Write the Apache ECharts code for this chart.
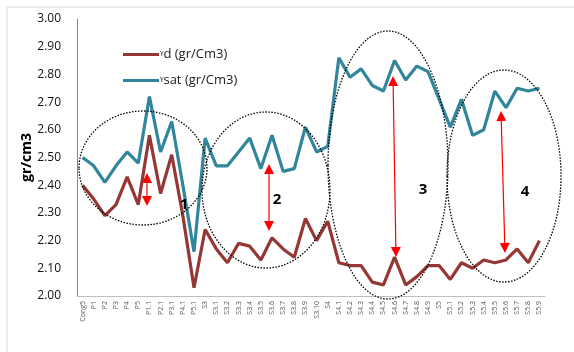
<!DOCTYPE html>
<html>
<head>
<meta charset="utf-8">
<script src="https://cdn.jsdelivr.net/npm/echarts@6/dist/echarts.min.js"></script>
<style>
  html, body { margin: 0; padding: 0; background: #fff; }
  #chart { width: 574px; height: 352px; }
</style>
</head>
<body>
<div id="chart"></div>
<script>
// sample labels
const categories = ['Cong5', 'P1', 'P2', 'P3', 'P4', 'P5', 'P1.1', 'P2.1', 'P3.1', 'P4.1', 'P5.1',
    'S3', 'S3.1', 'S3.2', 'S3.3', 'S3.4', 'S3.5', 'S3.6', 'S3.7', 'S3.8', 'S3.9', 'S3.10',
    'S4', 'S4.1', 'S4.2', 'S4.3', 'S4.4', 'S4.5', 'S4.6', 'S4.7', 'S4.8', 'S4.9',
    'S5', 'S5.1', 'S5.2', 'S5.3', 'S5.4', 'S5.5', 'S5.6', 'S5.7', 'S5.8', 'S5.9'];

// dry unit weight
const gammaD = [2.40, 2.35, 2.29, 2.33, 2.43, 2.33, 2.58, 2.37, 2.51, 2.29, 2.03,
    2.24, 2.17, 2.12, 2.19, 2.18, 2.13, 2.21, 2.17, 2.14, 2.28, 2.20,
    2.27, 2.12, 2.11, 2.11, 2.05, 2.04, 2.14, 2.04, 2.07, 2.11,
    2.11, 2.06, 2.12, 2.10, 2.13, 2.12, 2.13, 2.17, 2.12, 2.20];

// saturated unit weight
const gammaSat = [2.50, 2.47, 2.41, 2.47, 2.52, 2.48, 2.72, 2.52, 2.63, 2.40, 2.16,
    2.57, 2.47, 2.47, 2.52, 2.57, 2.46, 2.58, 2.45, 2.46, 2.61, 2.52,
    2.54, 2.86, 2.79, 2.82, 2.76, 2.74, 2.85, 2.78, 2.83, 2.81,
    2.71, 2.61, 2.71, 2.58, 2.60, 2.74, 2.68, 2.75, 2.74, 2.75];

const yTicks = { min: 2.0, max: 3.0, step: 0.1 };

// dotted ellipse around a group
function ellipse(cx, cy, rx, ry) {
    return {
        type: 'ellipse',
        shape: { cx: cx, cy: cy, rx: rx, ry: ry },
        style: { fill: null, stroke: '#000', lineWidth: 1.3, lineDash: [1.5, 1.5] },
        z: 10
    };
}

// red double headed arrow
function arrow(x1, y1, x2, y2) {
    const dx = x2 - x1, dy = y2 - y1;
    const len = Math.sqrt(dx * dx + dy * dy);
    const ux = dx / len, uy = dy / len;
    const px = -uy, py = ux;
    const hl = 10, hw = 5;
    const head = (tx, ty, sx, sy) => ({
        type: 'polygon',
        shape: { points: [[tx, ty], [tx + sx * hl + px * hw, ty + sy * hl + py * hw], [tx + sx * hl - px * hw, ty + sy * hl - py * hw]] },
        style: { fill: '#ff0000' },
        z: 11
    });
    return [
        {
            type: 'line',
            shape: { x1: x1 + ux * 8, y1: y1 + uy * 8, x2: x2 - ux * 8, y2: y2 - uy * 8 },
            style: { stroke: '#ff0000', lineWidth: 1.2 },
            z: 11
        },
        head(x1, y1, ux, uy),
        head(x2, y2, -ux, -uy)
    ];
}

function label(text, x, y) {
    return {
        type: 'text',
        x: x, y: y,
        style: { text: text, font: 'bold 15px "Open Sans", sans-serif', fill: '#000', align: 'center', verticalAlign: 'middle' },
        z: 12
    };
}

const chart = echarts.init(document.getElementById('chart'));

chart.setOption({
    animation: false,
    grid: { left: 77, right: 29, top: 19, bottom: 56 },
    legend: {
        orient: 'vertical',
        left: 118,
        top: 43,
        itemWidth: 36,
        itemHeight: 3,
        itemGap: 13,
        icon: 'rect',
        textStyle: { fontFamily: 'Open Sans', fontSize: 13, color: '#222', padding: [0, 0, 0, -4] }
    },
    xAxis: {
        type: 'category',
        data: categories,
        boundaryGap: true,
        axisLine: { lineStyle: { color: '#bfbfbf', width: 1 } },
        axisTick: { show: false },
        axisLabel: {
            interval: 0,
            rotate: 90,
            fontSize: 7,
            fontFamily: 'Open Sans',
            color: '#595959',
            margin: 5
        }
    },
    yAxis: {
        type: 'value',
        min: yTicks.min,
        max: yTicks.max,
        interval: yTicks.step,
        name: 'gr/cm3',
        nameLocation: 'middle',
        nameGap: 43,
        nameMoveOverlap: false,
        nameTextStyle: { fontFamily: 'Open Sans', fontSize: 14, fontWeight: 'bold', color: '#000' },
        axisLine: { show: true, lineStyle: { color: '#868686', width: 1 } },
        axisTick: { show: false },
        splitLine: { show: false },
        axisLabel: {
            fontFamily: 'Open Sans',
            fontSize: 12,
            color: '#111',
            margin: 16,
            formatter: v => v.toFixed(2)
        }
    },
    series: [
        {
            name: 'ᵞd (gr/Cm3)',
            type: 'line',
            data: gammaD,
            symbol: 'none',
            lineStyle: { color: '#953735', width: 3.2 },
            itemStyle: { color: '#953735' }
        },
        {
            name: 'ᵞsat (gr/Cm3)',
            type: 'line',
            data: gammaSat,
            symbol: 'none',
            lineStyle: { color: '#31859c', width: 3.2 },
            itemStyle: { color: '#31859c' }
        }
    ],
    graphic: [
        {
            type: 'rect',
            shape: { x: 7, y: 7, width: 600, height: 400 },
            style: { fill: null, stroke: '#d9d9d9', lineWidth: 1 },
            silent: true
        },
        ellipse(143, 168, 64, 57),
        ellipse(266, 190, 64, 78),
        ellipse(388, 165, 60, 134),
        ellipse(504, 176, 57, 106),
        ...arrow(147, 173, 147, 206),
        ...arrow(269, 164, 269, 231),
        ...arrow(393, 76, 396, 257),
        ...arrow(501, 111, 505, 253),
        label('1', 184, 205),
        label('2', 277, 200),
        label('3', 423, 190),
        label('4', 525, 192)
    ]
});
</script>
</body>
</html>
